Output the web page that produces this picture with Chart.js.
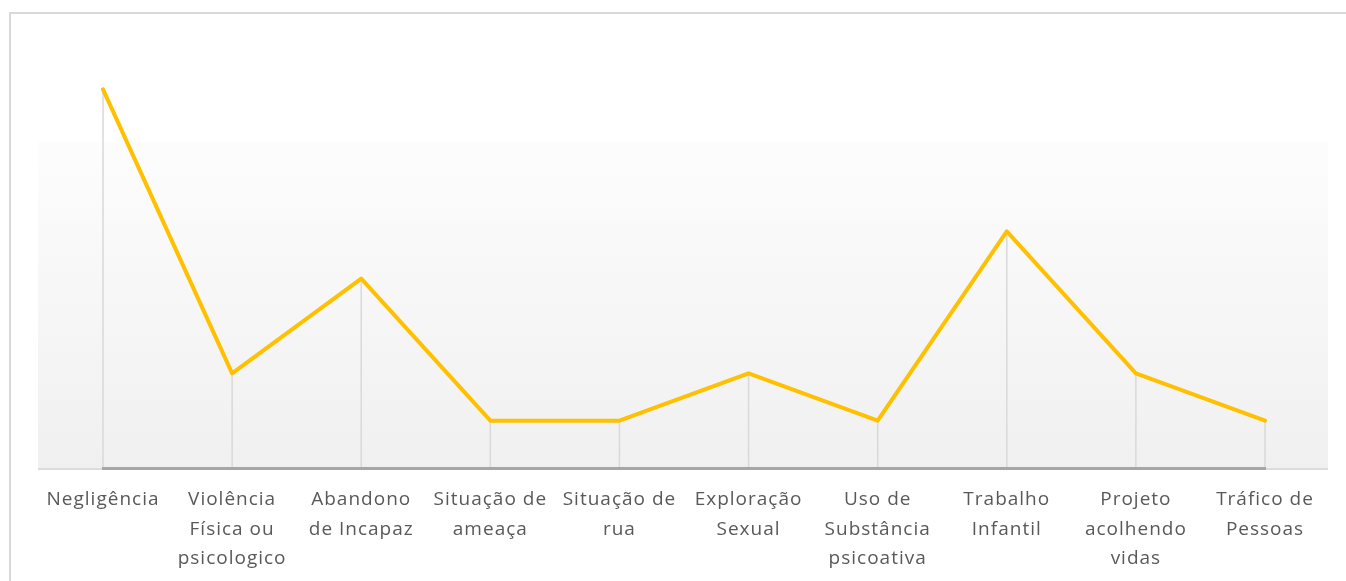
<!DOCTYPE html>
<html>
<head>
<meta charset="utf-8">
<script src="https://cdn.jsdelivr.net/npm/chart.js@4.4.1/dist/chart.umd.min.js"></script>
<style>
  html, body { margin: 0; padding: 0; background: #fff; overflow: hidden; }
  #frame { position: absolute; left: 9px; top: 12px; width: 1400px; height: 640px; border: 2px solid #d9d9d9; box-sizing: border-box; }
  #wrap { position: absolute; left: 0; top: 0; width: 1346px; height: 581px; }
</style>
</head>
<body>
<div id="frame"></div>
<div id="wrap"><canvas id="chart"></canvas></div>
<script>
// categories (already wrapped like in the original)
const categories = [
    ['Negligência'],
    ['Violência', 'Física ou', 'psicologico'],
    ['Abandono', 'de Incapaz'],
    ['Situação de', 'ameaça'],
    ['Situação de', 'rua'],
    ['Exploração', 'Sexual'],
    ['Uso de', 'Substância', 'psicoativa'],
    ['Trabalho', 'Infantil'],
    ['Projeto', 'acolhendo', 'vidas'],
    ['Tráfico de', 'Pessoas']
];
const values = [8, 2, 4, 1, 1, 2, 1, 5, 2, 1];
const yMin = 0;
const yMax = 9;

// soft grey panel behind the plot + drop lines from each point
const backdrop = {
    id: 'backdrop',
    beforeInit(chart) {
        chart.ctx.letterSpacing = '1px';
    },
    beforeDraw(chart) {
        const { ctx, chartArea } = chart;
        const x0 = chartArea.left - 65;
        const x1 = chartArea.right + 63;
        const y0 = 141;
        const y1 = chartArea.bottom;
        const g = ctx.createLinearGradient(0, y0, 0, y1);
        g.addColorStop(0, '#fdfdfd');
        g.addColorStop(1, '#f0f0f0');
        ctx.save();
        ctx.fillStyle = g;
        ctx.fillRect(x0, y0, x1 - x0, y1 - y0);
        ctx.fillStyle = '#dcdcdc';
        ctx.fillRect(x0, y1, x1 - x0, 2);

        const meta = chart.getDatasetMeta(0);
        ctx.strokeStyle = '#d9d9d9';
        ctx.lineWidth = 1.5;
        meta.data.forEach(pt => {
            ctx.beginPath();
            ctx.moveTo(pt.x, pt.y);
            ctx.lineTo(pt.x, y1);
            ctx.stroke();
        });
        ctx.restore();
        ctx.letterSpacing = '1px';
    }
};

new Chart(document.getElementById('chart'), {
    type: 'line',
    data: {
        labels: categories,
        datasets: [{
            data: values,
            borderColor: '#ffc000',
            borderWidth: 4,
            pointRadius: 0,
            tension: 0,
            borderCapStyle: 'round',
            borderJoinStyle: 'round'
        }]
    },
    options: {
        responsive: true,
        maintainAspectRatio: false,
        animation: false,
        layout: { padding: { left: 103, right: 81, top: 42, bottom: 0 } },
        plugins: { legend: { display: false }, tooltip: { enabled: false } },
        scales: {
            x: {
                offset: false,
                afterFit(scale) { scale.height = 113; },
                grid: { display: false, drawTicks: false },
                border: { color: '#a6a6a6', width: 3 },
                ticks: {
                    maxRotation: 0,
                    autoSkip: false,
                    padding: 17,
                    color: '#595959',
                    font: { family: "'Open Sans', sans-serif", size: 19, lineHeight: 1.55 }
                }
            },
            y: {
                display: false,
                min: yMin,
                max: yMax
            }
        }
    },
    plugins: [backdrop]
});
</script>
</body>
</html>
